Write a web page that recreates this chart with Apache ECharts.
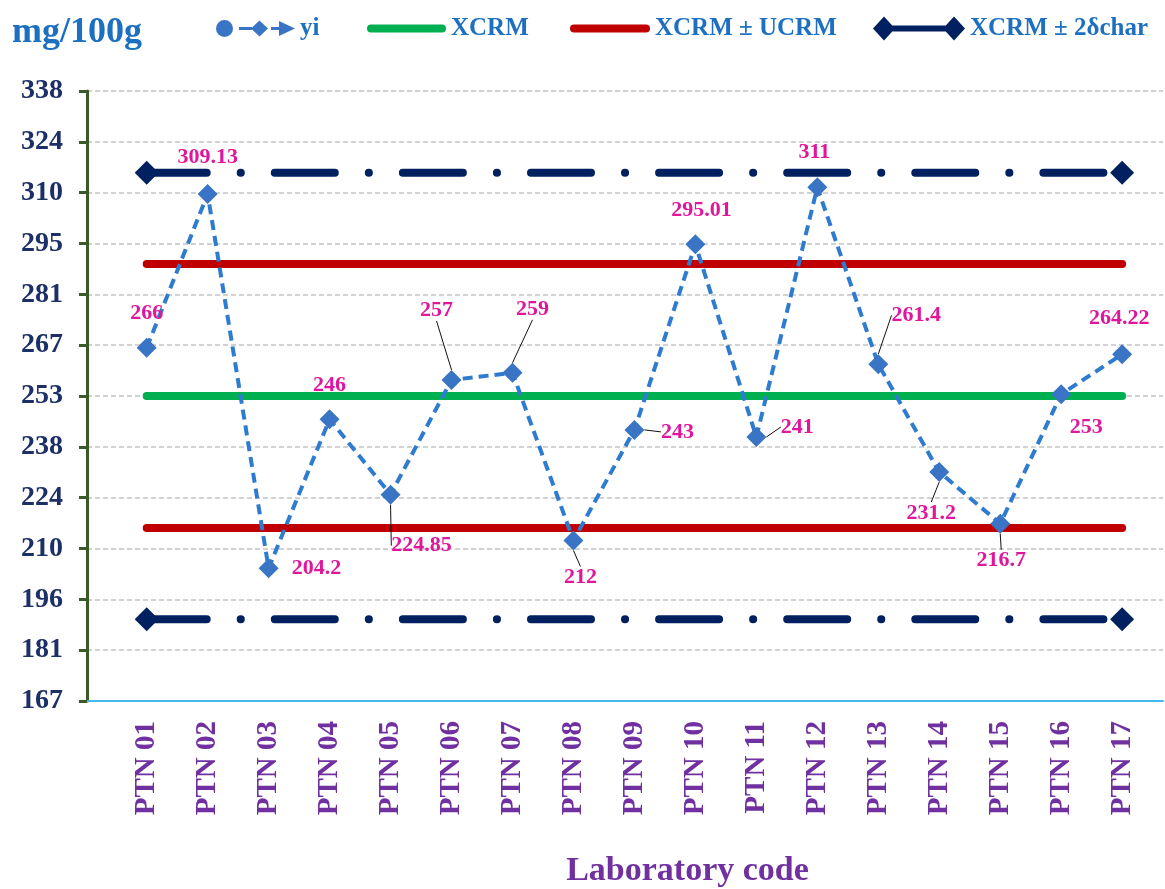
<!DOCTYPE html>
<html>
<head>
<meta charset="utf-8">
<script src="https://cdn.jsdelivr.net/npm/echarts@6/dist/echarts.min.js"></script>
<style>html,body{margin:0;padding:0;background:#fff}#c{width:1165px;height:889px}</style>
</head>
<body>
<div id="c"></div>
<script>
// ---- data ----
const categories = ['PTN 01','PTN 02','PTN 03','PTN 04','PTN 05','PTN 06','PTN 07','PTN 08','PTN 09','PTN 10','PTN 11','PTN 12','PTN 13','PTN 14','PTN 15','PTN 16','PTN 17'];
const yiValues = [266, 309.13, 204.2, 246, 224.85, 257, 259, 212, 243, 295.01, 241, 311, 261.4, 231.2, 216.7, 253, 264.22];
const xcrmValue = 252.5;
const ucrmValue = 37;
const twoDeltaChar = 62.6;
const yAxisMin = 167;
const yAxisMax = 338;
const yAxisStep = 14.25;

// ---- layout helpers (not data) ----
const serif = "'Liberation Serif','Times New Roman',serif";
const n = categories.length;
const idx = categories.map((_, i) => i);
const labelOffsets = [[0,-35],[0,-37],[48,0],[0,-34],[31,51],[-15,-70],[20,-64],[7,37],[43,2],[6,-34],[41,-10],[-3,-35],[38,-49],[-8,41],[1,37],[25,33],[-3,-36]];
const leaderIdx = [4,5,6,7,8,10,12,13,14];
const flat = v => idx.map(i => [i, v]);
const navyData = v => idx.map(i => ({ value: [i, v], symbol: (i === 0 || i === n - 1) ? 'diamond' : 'none' }));

const yiIcon = 'path://M0 9A8.5 8.5 0 1 0 17 9A8.5 8.5 0 1 0 0 9Z M23 7.5H36V10.5H23Z M35 9L43.5 1L52 9L43.5 17Z M55 7.5H63V10.5H55Z M63 1.5L79 9L63 16.5Z';
const barIcon = 'path://M4 0H76A4 4 0 0 1 76 8H4A4 4 0 0 1 4 0Z';
const navyIcon = 'path://M0 12L11 0L22 12L11 24Z M11 9H81V15H11Z M70 12L81 0L92 12L81 24Z';

const legendText = { color: '#1d70c0', fontFamily: serif, fontWeight: 'bold', fontSize: 25 };
const mkLegend = (name, icon, left, w, h) => ({
  data: [{ name: name, icon: icon }], left: left, top: 16, padding: 0,
  itemWidth: w, itemHeight: h, itemGap: 0, textStyle: legendText,
  itemStyle: { borderWidth: 0 }, selectedMode: false
});

const green = '#00b050', red = '#c00000', navy = '#002060', blue = '#2e7bcf';
const navyDash = [60, 34, 0.1, 34];

const chart = echarts.init(document.getElementById('c'), null, { renderer: 'canvas' });
chart.setOption({
  animation: false,
  backgroundColor: '#ffffff',
  title: [{
    text: 'mg/100g', left: 7, top: 10,
    textStyle: { color: '#1d70c0', fontFamily: serif, fontWeight: 'bold', fontSize: 36 }
  }],
  legend: [
    mkLegend('yi', yiIcon, 216, 79, 18),
    mkLegend('XCRM', barIcon, 367, 79, 8),
    mkLegend('XCRM ± UCRM', barIcon, 570, 80, 8),
    mkLegend('XCRM ± 2δchar', navyIcon, 873, 92, 24)
  ],
  grid: { left: 87, right: 2, top: 91, bottom: 188, containLabel: false, outerBoundsMode: 'none' },
  xAxis: {
    type: 'value', min: -0.979, max: 16.67,
    name: 'Laboratory code', nameLocation: 'middle', nameGap: 153,
    nameTextStyle: { color: '#7030a0', fontFamily: serif, fontWeight: 'bold', fontSize: 34, padding: [0, 0, 0, 125] },
    axisLine: { show: true, onZero: false, lineStyle: { color: '#45b8ec', width: 2 } },
    axisTick: { show: false },
    splitLine: { show: false },
    axisLabel: {
      customValues: idx,
      formatter: v => categories[Math.round(v)] || '',
      rotate: 90, margin: 20,
      color: '#7030a0', fontFamily: serif, fontWeight: 'bold', fontSize: 29
    }
  },
  yAxis: {
    type: 'value', min: yAxisMin, max: yAxisMax, interval: yAxisStep,
    axisLine: { show: true, onZero: false, lineStyle: { color: '#3a5a27', width: 3 } },
    axisTick: { show: true, inside: false, length: 8, lineStyle: { color: '#3a5a27', width: 3 } },
    axisLabel: {
      formatter: v => String(Math.round(v + 1e-6)),
      margin: 24, color: '#1c2f66', fontFamily: serif, fontWeight: 'bold', fontSize: 28
    },
    splitLine: { show: true, lineStyle: { color: '#c4c4c4', width: 1.5, type: [5, 3] } }
  },
  series: [
    {
      name: 'XCRM', type: 'line', data: flat(xcrmValue), symbol: 'none', z: 2,
      itemStyle: { color: green },
      lineStyle: { color: green, width: 8, cap: 'round' }
    },
    {
      name: 'XCRM ± UCRM', type: 'line', data: flat(xcrmValue + ucrmValue), symbol: 'none', z: 2,
      itemStyle: { color: red },
      lineStyle: { color: red, width: 8, cap: 'round' }
    },
    {
      name: 'XCRM ± UCRM', type: 'line', data: flat(xcrmValue - ucrmValue), symbol: 'none', z: 2,
      itemStyle: { color: red },
      lineStyle: { color: red, width: 8, cap: 'round' }
    },
    {
      name: 'XCRM ± 2δchar', type: 'line', data: navyData(xcrmValue + twoDeltaChar), symbolSize: 24, showSymbol: true, z: 2,
      itemStyle: { color: navy, borderWidth: 0 },
      lineStyle: { color: navy, width: 8, cap: 'round', type: navyDash }
    },
    {
      name: 'XCRM ± 2δchar', type: 'line', data: navyData(xcrmValue - twoDeltaChar), symbolSize: 24, showSymbol: true, z: 2,
      itemStyle: { color: navy, borderWidth: 0 },
      lineStyle: { color: navy, width: 8, cap: 'round', type: navyDash }
    },
    {
      name: 'yi', type: 'line', z: 5,
      data: yiValues.map((v, i) => ({ value: [i, v], labelLine: { show: leaderIdx.indexOf(i) >= 0 } })),
      symbol: 'diamond', symbolSize: 20, showSymbol: true,
      itemStyle: { color: '#3a74c4', borderWidth: 0 },
      lineStyle: { color: blue, width: 4, type: [10, 6] },
      label: {
        show: true, position: 'inside',
        formatter: p => String(yiValues[p.dataIndex]),
        color: '#e0169b', textBorderWidth: 0, fontFamily: serif, fontWeight: 'bold', fontSize: 22
      },
      labelLine: { show: false, lineStyle: { color: '#111111', width: 1 } },
      labelLayout: p => ({ dx: labelOffsets[p.dataIndex][0], dy: labelOffsets[p.dataIndex][1] })
    }
  ]
});
</script>
</body>
</html>
